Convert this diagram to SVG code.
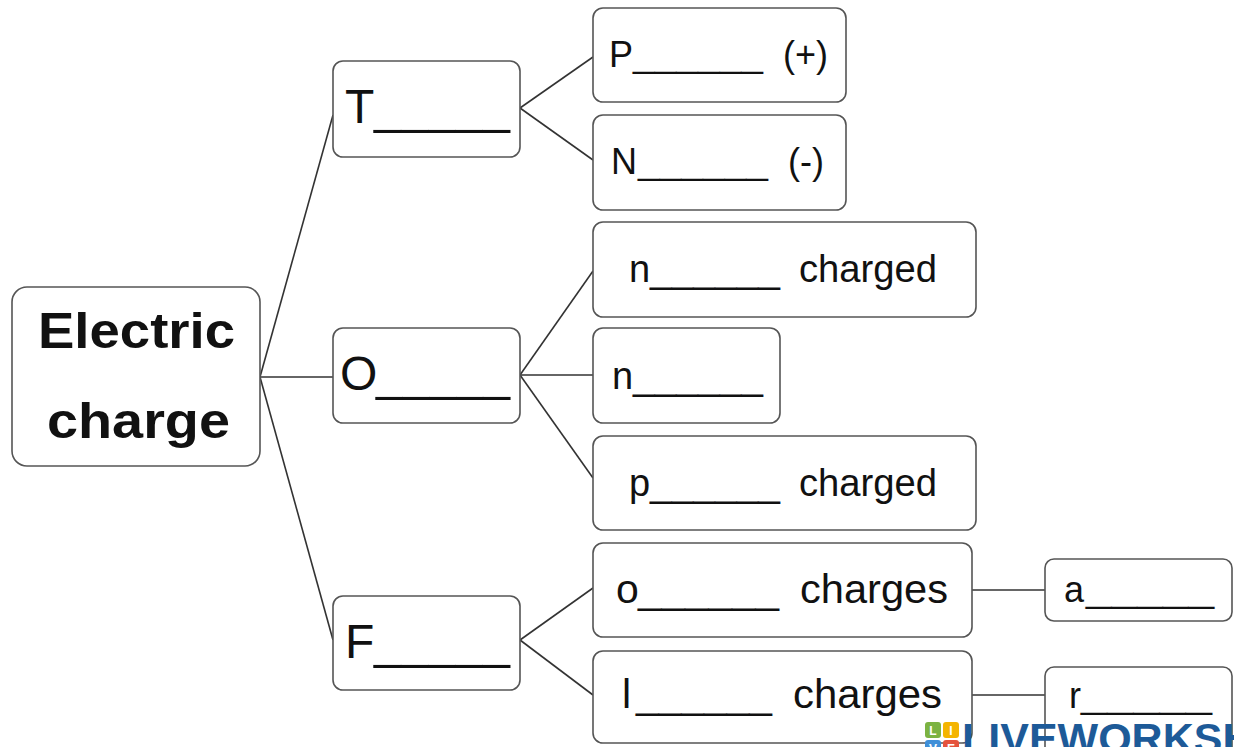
<svg xmlns="http://www.w3.org/2000/svg" width="1234" height="747" viewBox="0 0 1234 747">
<style>
.box{fill:#fff;stroke:#555;stroke-width:1.6}
.t{font-family:"Liberation Sans",Arial,sans-serif;fill:#111}
.big{font-size:48px}
.mid{font-size:38px}
.sm{font-size:36px}
.cg{font-size:41px}
.conn line{stroke:#333;stroke-width:1.6}
.wm{font-family:"Liberation Sans",Arial,sans-serif;font-weight:bold;font-size:43px;fill:#1d5a98}
</style>
<rect width="1234" height="747" fill="#fff"/>
<g id="connectors" class="conn">
<line x1="260" y1="377" x2="333" y2="115"/>
<line x1="260" y1="377" x2="333" y2="377"/>
<line x1="260" y1="377" x2="333" y2="640"/>
<line x1="520" y1="108" x2="593" y2="57"/>
<line x1="520" y1="108" x2="593" y2="160"/>
<line x1="520" y1="375" x2="593" y2="271"/>
<line x1="520" y1="375" x2="593" y2="375"/>
<line x1="520" y1="375" x2="593" y2="478"/>
<line x1="520" y1="640" x2="593" y2="588"/>
<line x1="520" y1="640" x2="593" y2="695"/>
<line x1="972" y1="590" x2="1045" y2="590"/>
<line x1="972" y1="695" x2="1045" y2="695"/>
</g>
<g id="electric-charge">
<rect class="box" x="12" y="287" width="248" height="179" rx="15"/>
<text class="t" x="38" y="348" font-size="50" font-weight="bold" textLength="197" lengthAdjust="spacingAndGlyphs">Electric</text>
<text class="t" x="47" y="438" font-size="50" font-weight="bold" textLength="183" lengthAdjust="spacingAndGlyphs">charge</text>
</g>
<g id="node-T">
<rect class="box" x="333" y="61" width="187" height="96" rx="10"/>
<text class="t big" y="123"><tspan x="345">T</tspan><tspan x="374" textLength="136" lengthAdjust="spacingAndGlyphs">_____</tspan></text>
</g>
<g id="node-O">
<rect class="box" x="333" y="328" width="187" height="95" rx="10"/>
<text class="t big" y="390"><tspan x="340">O</tspan><tspan x="376" textLength="134" lengthAdjust="spacingAndGlyphs">_____</tspan></text>
</g>
<g id="node-F">
<rect class="box" x="333" y="596" width="187" height="94" rx="10"/>
<text class="t big" y="658"><tspan x="345">F</tspan><tspan x="374" textLength="136" lengthAdjust="spacingAndGlyphs">_____</tspan></text>
</g>
<g id="node-P">
<rect class="box" x="593" y="8" width="253" height="94" rx="10"/>
<text class="t sm" y="67"><tspan x="609">P</tspan><tspan x="633" textLength="130" lengthAdjust="spacingAndGlyphs">______</tspan><tspan x="783">(+)</tspan></text>
</g>
<g id="node-N">
<rect class="box" x="593" y="115" width="253" height="95" rx="10"/>
<text class="t sm" y="174"><tspan x="611">N</tspan><tspan x="638" textLength="130" lengthAdjust="spacingAndGlyphs">______</tspan><tspan x="788">(-)</tspan></text>
</g>
<g id="node-n-charged">
<rect class="box" x="593" y="222" width="383" height="95" rx="10"/>
<text class="t mid" y="282"><tspan x="629">n</tspan><tspan x="650" textLength="130" lengthAdjust="spacingAndGlyphs">______</tspan><tspan x="799" textLength="138" lengthAdjust="spacingAndGlyphs">charged</tspan></text>
</g>
<g id="node-n">
<rect class="box" x="593" y="328" width="187" height="95" rx="10"/>
<text class="t mid" y="389"><tspan x="612">n</tspan><tspan x="633" textLength="130" lengthAdjust="spacingAndGlyphs">______</tspan></text>
</g>
<g id="node-p-charged">
<rect class="box" x="593" y="436" width="383" height="94" rx="10"/>
<text class="t mid" y="496"><tspan x="629">p</tspan><tspan x="650" textLength="130" lengthAdjust="spacingAndGlyphs">______</tspan><tspan x="799" textLength="138" lengthAdjust="spacingAndGlyphs">charged</tspan></text>
</g>
<g id="node-o-charges">
<rect class="box" x="593" y="543" width="379" height="94" rx="10"/>
<text class="t cg" y="603"><tspan x="616">o</tspan><tspan x="638" textLength="141" lengthAdjust="spacingAndGlyphs">______</tspan><tspan x="800" textLength="148" lengthAdjust="spacingAndGlyphs">charges</tspan></text>
</g>
<g id="node-l-charges">
<rect class="box" x="593" y="651" width="379" height="92" rx="10"/>
<text class="t cg" y="708"><tspan x="622">l</tspan><tspan x="636" textLength="136" lengthAdjust="spacingAndGlyphs">______</tspan><tspan x="793" textLength="149" lengthAdjust="spacingAndGlyphs">charges</tspan></text>
</g>
<g id="node-a">
<rect class="box" x="1045" y="559" width="187" height="62" rx="9"/>
<text class="t sm" y="602"><tspan x="1064">a</tspan><tspan x="1086" textLength="128" lengthAdjust="spacingAndGlyphs">_____</tspan></text>
</g>
<g id="node-r">
<rect class="box" x="1045" y="667" width="187" height="90" rx="9"/>
<text class="t sm" y="708"><tspan x="1069">r</tspan><tspan x="1081" textLength="131" lengthAdjust="spacingAndGlyphs">_____</tspan></text>
</g>
<g id="watermark">
<rect x="925" y="722" width="16" height="16" rx="3" fill="#7cb342"/>
<rect x="943" y="722" width="16" height="16" rx="3" fill="#f4b400"/>
<rect x="925" y="740" width="16" height="16" rx="3" fill="#3f8fd8"/>
<rect x="943" y="740" width="16" height="16" rx="3" fill="#e5533d"/>
<text x="933" y="735" font-family="Liberation Sans,Arial,sans-serif" font-weight="bold" font-size="12" fill="#fff" text-anchor="middle">L</text>
<text x="951" y="735" font-family="Liberation Sans,Arial,sans-serif" font-weight="bold" font-size="12" fill="#fff" text-anchor="middle">I</text>
<text x="933" y="753" font-family="Liberation Sans,Arial,sans-serif" font-weight="bold" font-size="12" fill="#fff" text-anchor="middle">V</text>
<text x="951" y="753" font-family="Liberation Sans,Arial,sans-serif" font-weight="bold" font-size="12" fill="#fff" text-anchor="middle">E</text>
<text class="wm" x="962" y="753">LIVEWORKSHEETS</text>
</g>
</svg>
